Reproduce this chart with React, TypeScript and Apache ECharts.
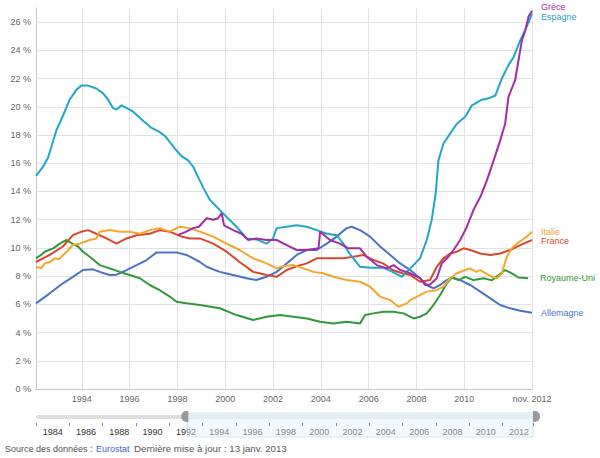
import React, { useEffect, useRef } from 'react';
import * as echarts from 'echarts';

const FONT = 'Arial, "Liberation Sans", sans-serif';
const X_MIN = 1992.0833;
const X_MAX = 2012.8333;
const SLIDER_MIN = 1983;

const xTickValues = [1994, 1996, 1998, 2000, 2002, 2004, 2006, 2008, 2010, X_MAX];
const lastLabel = 'nov. 2012';

const greece = [
  [1998.0, 10.9], [1998.3, 11.1], [1998.66, 11.4], [1998.9, 11.5], [1999.22, 12.1], [1999.5, 12.0],
  [1999.7, 12.1], [1999.85, 12.45], [1999.95, 11.6], [2000.33, 11.26], [2000.68, 11.0], [2000.96, 10.56],
  [2001.3, 10.67], [2001.73, 10.56], [2002.15, 10.56], [2002.57, 10.2], [2002.99, 9.85], [2003.41, 9.85],
  [2003.9, 9.97], [2003.97, 11.15], [2004.38, 10.56], [2004.8, 10.3], [2005.15, 9.97], [2005.64, 9.97],
  [2005.92, 9.37], [2006.34, 8.78], [2006.76, 8.55], [2007.04, 8.78], [2007.32, 8.43], [2007.74, 8.2],
  [2008.15, 7.85], [2008.36, 7.37], [2008.57, 7.4], [2008.85, 7.85], [2009.06, 8.9], [2009.34, 9.37],
  [2009.55, 9.85], [2009.83, 10.56], [2010.11, 11.5], [2010.39, 12.7], [2010.67, 13.6], [2010.95, 14.8],
  [2011.23, 16.2], [2011.5, 17.6], [2011.71, 18.8], [2011.85, 20.7], [2012.13, 21.9], [2012.27, 23.3],
  [2012.41, 24.7], [2012.55, 25.4], [2012.69, 26.4], [2012.8333, 26.8],
];

const spain = [
  [1992.0833, 15.1], [1992.36, 15.7], [1992.59, 16.4], [1992.94, 18.35], [1993.22, 19.4], [1993.49, 20.5],
  [1993.77, 21.2], [1993.98, 21.5], [1994.26, 21.5], [1994.61, 21.3], [1994.89, 20.95], [1995.1, 20.5],
  [1995.31, 19.9], [1995.45, 19.8], [1995.66, 20.1], [1996.0, 19.8], [1996.15, 19.65], [1996.43, 19.2],
  [1996.71, 18.8], [1996.92, 18.5], [1997.26, 18.2], [1997.5, 17.9], [1997.68, 17.5], [1997.96, 16.9],
  [1998.17, 16.5], [1998.45, 16.2], [1998.66, 15.75], [1998.87, 15.0], [1999.1, 14.2], [1999.36, 13.4],
  [1999.9, 12.45], [2000.47, 11.5], [2000.9, 10.67], [2001.3, 10.6], [2001.73, 10.3], [2002.0, 10.67],
  [2002.15, 11.4], [2002.57, 11.5], [2002.99, 11.6], [2003.41, 11.5], [2003.83, 11.26], [2004.25, 11.0],
  [2004.66, 10.9], [2004.94, 10.3], [2005.2, 9.6], [2005.64, 8.66], [2006.06, 8.6], [2006.6, 8.6],
  [2007.0, 8.3], [2007.39, 7.95], [2007.74, 8.55], [2008.15, 9.26], [2008.43, 10.56], [2008.64, 12.0],
  [2008.8, 13.8], [2008.92, 16.2], [2009.13, 17.4], [2009.41, 18.1], [2009.69, 18.8], [2010.04, 19.3],
  [2010.32, 20.1], [2010.74, 20.5], [2011.02, 20.6], [2011.3, 20.8], [2011.57, 22.0], [2011.85, 22.95],
  [2012.06, 23.5], [2012.34, 24.7], [2012.62, 25.7], [2012.8333, 26.6],
];

const italy = [
  [1992.0833, 8.66], [1992.3, 8.55], [1992.45, 8.9], [1992.66, 9.0], [1992.87, 9.26], [1993.05, 9.2],
  [1993.36, 9.73], [1993.63, 10.2], [1993.91, 10.3], [1994.33, 10.56], [1994.61, 10.67], [1994.75, 11.15],
  [1995.17, 11.26], [1995.59, 11.15], [1996.0, 11.15], [1996.43, 11.0], [1996.84, 11.26], [1997.26, 11.4],
  [1997.68, 11.15], [1998.1, 11.5], [1998.5, 11.4], [1998.94, 11.15], [1999.5, 10.8], [2000.06, 10.3],
  [2000.6, 9.85], [2001.17, 9.26], [2001.73, 8.9], [2002.15, 8.55], [2002.4, 8.7], [2002.85, 8.78],
  [2003.27, 8.55], [2003.69, 8.3], [2004.1, 8.2], [2004.52, 7.95], [2005.08, 7.72], [2005.64, 7.6],
  [2006.06, 7.25], [2006.48, 6.55], [2006.9, 6.3], [2007.24, 5.83], [2007.6, 6.07], [2007.74, 6.3],
  [2008.15, 6.66], [2008.43, 6.9], [2008.85, 7.0], [2009.13, 7.25], [2009.41, 7.85], [2009.69, 8.2],
  [2010.04, 8.43], [2010.25, 8.55], [2010.5, 8.3], [2010.67, 8.43], [2010.9, 8.2], [2011.16, 7.95],
  [2011.37, 7.85], [2011.57, 8.2], [2011.78, 9.37], [2011.99, 9.97], [2012.2, 10.3], [2012.41, 10.56],
  [2012.62, 10.8], [2012.8333, 11.15],
];

const france = [
  [1992.0833, 9.0], [1992.66, 9.5], [1993.21, 10.1], [1993.63, 10.9], [1993.98, 11.15], [1994.26, 11.26],
  [1994.61, 11.0], [1995.03, 10.67], [1995.45, 10.3], [1995.87, 10.67], [1996.29, 10.9], [1996.84, 11.0],
  [1997.26, 11.26], [1997.68, 11.15], [1998.17, 10.8], [1998.52, 10.67], [1998.94, 10.67], [1999.5, 10.3],
  [2000.06, 9.73], [2000.6, 9.0], [2001.17, 8.3], [2001.73, 8.08], [2002.15, 7.95], [2002.57, 8.43],
  [2002.99, 8.7], [2003.41, 8.9], [2003.83, 9.26], [2004.38, 9.26], [2004.94, 9.26], [2005.36, 9.37],
  [2005.78, 9.5], [2006.2, 9.14], [2006.6, 8.9], [2007.0, 8.43], [2007.4, 8.2], [2007.74, 8.08],
  [2008.15, 7.6], [2008.57, 7.72], [2008.85, 8.66], [2009.13, 9.26], [2009.41, 9.6], [2009.69, 9.73],
  [2009.97, 9.97], [2010.25, 9.85], [2010.67, 9.6], [2011.09, 9.5], [2011.5, 9.6], [2011.92, 9.85],
  [2012.34, 10.2], [2012.8333, 10.56],
];

const unitedKingdom = [
  [1992.0833, 9.26], [1992.3, 9.5], [1992.45, 9.73], [1992.8, 9.97], [1993.08, 10.3], [1993.36, 10.56],
  [1993.6, 10.3], [1993.84, 10.1], [1994.05, 9.73], [1994.33, 9.37], [1994.75, 8.78], [1995.17, 8.55],
  [1995.59, 8.3], [1996.0, 8.08], [1996.43, 7.85], [1996.84, 7.37], [1997.26, 7.0], [1997.68, 6.55],
  [1997.96, 6.18], [1998.38, 6.07], [1998.94, 5.95], [1999.77, 5.72], [2000.47, 5.24], [2001.17, 4.89],
  [2001.73, 5.12], [2002.29, 5.24], [2002.85, 5.12], [2003.41, 5.0], [2003.97, 4.77], [2004.52, 4.65],
  [2005.08, 4.77], [2005.64, 4.65], [2005.85, 5.24], [2006.2, 5.36], [2006.62, 5.48], [2007.04, 5.48],
  [2007.46, 5.36], [2007.88, 5.0], [2008.15, 5.12], [2008.43, 5.36], [2008.71, 5.95], [2008.99, 6.66],
  [2009.27, 7.49], [2009.48, 7.9], [2009.76, 7.72], [2010.04, 7.95], [2010.39, 7.72], [2010.81, 7.85],
  [2011.16, 7.7], [2011.44, 8.08], [2011.71, 8.43], [2011.99, 8.2], [2012.27, 7.9], [2012.6667, 7.85],
];

const germany = [
  [1992.0833, 6.07], [1992.66, 6.78], [1993.21, 7.49], [1993.63, 7.95], [1994.05, 8.43], [1994.47, 8.48],
  [1994.75, 8.3], [1995.17, 8.08], [1995.45, 8.1], [1995.87, 8.43], [1996.29, 8.78], [1996.71, 9.14],
  [1997.13, 9.68], [1997.54, 9.68], [1997.96, 9.68], [1998.38, 9.5], [1998.66, 9.26], [1998.94, 9.0],
  [1999.22, 8.66], [1999.77, 8.3], [2000.33, 8.08], [2000.9, 7.85], [2001.3, 7.72], [2001.73, 7.95],
  [2002.15, 8.3], [2002.57, 8.9], [2002.99, 9.5], [2003.41, 9.85], [2003.83, 9.85], [2004.25, 10.3],
  [2004.66, 10.8], [2005.08, 11.4], [2005.29, 11.5], [2005.64, 11.26], [2006.06, 10.8], [2006.48, 10.1],
  [2006.9, 9.5], [2007.32, 8.9], [2007.74, 8.43], [2008.15, 7.85], [2008.43, 7.37], [2008.71, 7.13],
  [2008.99, 7.37], [2009.27, 7.72], [2009.48, 7.9], [2009.83, 7.72], [2010.25, 7.37], [2010.67, 6.9],
  [2011.09, 6.42], [2011.5, 5.95], [2011.92, 5.72], [2012.34, 5.55], [2012.8333, 5.4],
];

const seriesDefs = [
  { name: 'Allemagne', data: germany, color: '#4a73c4', labelOffset: [9, 0] },
  { name: 'Royaume-Uni', data: unitedKingdom, color: '#2f9a36', labelOffset: [12, 0] },
  { name: 'France', data: france, color: '#d9472b', labelOffset: [9, 1] },
  { name: 'Italie', data: italy, color: '#f6a52c', labelOffset: [9, 0] },
  { name: 'Espagne', data: spain, color: '#1fa6c8', labelOffset: [9, 3] },
  { name: 'Grèce', data: greece, color: '#a22ea6', labelOffset: [9, -3.5] },
];

export default function App() {
  const ref = useRef<HTMLDivElement>(null);
  useEffect(() => {
    if (!ref.current) return;
    const chart = echarts.init(ref.current, null, { renderer: 'svg' });
    const sliderLeft = 36;
    const sliderWidth = 497;
    const pxPerYear = sliderWidth / (X_MAX - SLIDER_MIN);
    const labelLeft = sliderLeft + (1984 - SLIDER_MIN) * pxPerYear;
    const selX = sliderLeft + (X_MIN - SLIDER_MIN) * pxPerYear;
    const selEnd = sliderLeft + sliderWidth;

    chart.setOption({
      animation: false,
      textStyle: { fontFamily: FONT },
      grid: [
        { left: 36, top: 8, width: 496, height: 381 },
        { left: sliderLeft, top: 422, width: sliderWidth, height: 1 },
        { left: labelLeft, top: 422, width: sliderLeft + sliderWidth - labelLeft, height: 1 },
      ],
      xAxis: [
        {
          type: 'value', gridIndex: 0, min: X_MIN, max: X_MAX,
          axisLine: { show: true, lineStyle: { color: '#c8c8c8' } },
          axisTick: { show: false, customValues: xTickValues },
          axisLabel: {
            customValues: xTickValues, color: '#666', fontSize: 9, margin: 5, fontFamily: FONT,
            formatter: (v: number) => (v > 2011 ? lastLabel : String(Math.round(v))),
          },
          splitLine: { show: true, lineStyle: { color: '#e2e2e2' } },
        },
        {
          type: 'value', gridIndex: 1, min: SLIDER_MIN, max: X_MAX, interval: 2, z: 20,
          axisLine: { show: false },
          axisTick: { show: true, length: 3, lineStyle: { color: '#888' } },
          axisLabel: { show: false },
          splitLine: { show: false },
        },
        {
          type: 'value', gridIndex: 2, min: 1984, max: X_MAX, interval: 2, z: 20,
          axisLine: { show: false },
          axisTick: { show: false },
          axisLabel: {
            show: true, margin: 4, fontSize: 9, showMaxLabel: false,
            formatter: (v: number) => {
              if (v === 1992) return '{d|19}{l|92}';
              return v < 1992 ? `{d|${v}}` : `{l|${v}}`;
            },
            rich: {
              d: { color: '#333', fontSize: 9, fontFamily: FONT },
              l: { color: '#888', fontSize: 9, fontFamily: FONT },
            },
          },
          splitLine: { show: false },
        },
      ],
      yAxis: [
        {
          type: 'value', gridIndex: 0, min: 0, max: 27, interval: 2,
          axisLine: { show: true, lineStyle: { color: '#c8c8c8' } },
          axisTick: { show: false },
          axisLabel: {
            color: '#666', fontSize: 9, margin: 5, showMaxLabel: false, fontFamily: FONT,
            formatter: (v: number) => (v > 26 ? '' : `${v} %`),
          },
          splitLine: { show: true, showMaxLine: false, lineStyle: { color: '#e2e2e2' } },
        },
        { type: 'value', gridIndex: 1, min: 0, max: 1, show: false },
        { type: 'value', gridIndex: 2, min: 0, max: 1, show: false },
      ],
      series: seriesDefs.map((s) => ({
        type: 'line',
        name: s.name,
        xAxisIndex: 0,
        yAxisIndex: 0,
        data: s.data,
        showSymbol: false,
        symbol: 'none',
        lineStyle: { width: 2, color: s.color },
        itemStyle: { color: s.color },
        endLabel: {
          show: true,
          formatter: s.name,
          color: s.color,
          fontSize: 9,
          fontFamily: FONT,
          distance: 0,
          offset: s.labelOffset,
        },
      })),
      graphic: [
        { type: 'rect', z: 1, shape: { x: sliderLeft, y: 415, width: selX - sliderLeft, height: 4, r: 2 }, style: { fill: '#dedede' } },
        { type: 'rect', z: 1, shape: { x: selX, y: 413, width: selEnd - selX, height: 24 }, style: { fill: '#f1f9fc', stroke: '#d3e5ec', lineWidth: 1 } },
        { type: 'rect', z: 2, shape: { x: selX, y: 414, width: selEnd - selX, height: 5 }, style: { fill: '#e1eef3' } },
        { type: 'rect', z: 30, shape: { x: selX - 6, y: 411, width: 7, height: 11, r: [5, 0, 0, 5] }, style: { fill: '#9a9a9a' } },
        { type: 'rect', z: 30, shape: { x: selEnd, y: 411, width: 7, height: 11, r: [0, 5, 5, 0] }, style: { fill: '#9a9a9a' } },
        { type: 'text', left: 5, top: 444, style: { text: 'Source des données : ', fill: '#555', fontSize: 9, fontFamily: FONT } },
        { type: 'text', left: 96, top: 444, style: { text: 'Eurostat', fill: '#3a66c4', fontSize: 9, fontFamily: FONT } },
        { type: 'text', left: 134, top: 443.5, style: { text: 'Dernière mise à jour : 13 janv. 2013', fill: '#555', fontSize: 9.7, fontFamily: FONT } },
      ],
    });
    return () => chart.dispose();
  }, []);
  return <div ref={ref} style={{ position: 'fixed', left: 0, top: 0, width: 600, height: 458, background: '#fff' }} />;
}
